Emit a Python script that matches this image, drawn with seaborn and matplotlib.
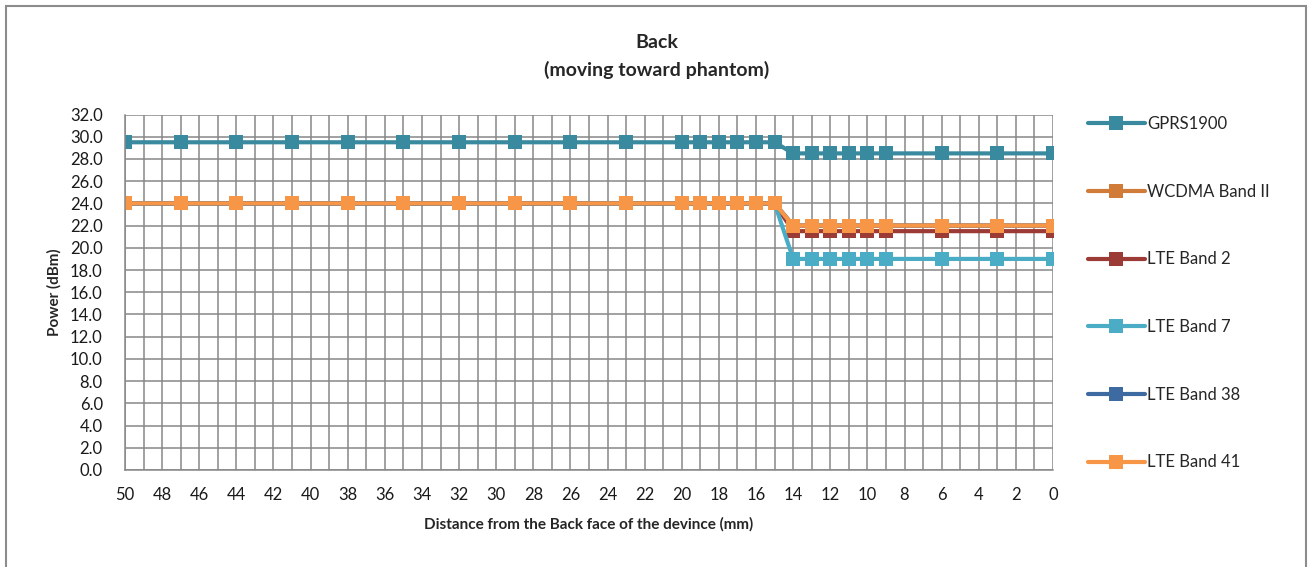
import pandas as pd
import matplotlib
matplotlib.use('Agg')
import matplotlib.pyplot as plt
import seaborn as sns
from matplotlib.patches import Rectangle
from matplotlib.ticker import MultipleLocator, FormatStrFormatter

distance = [50, 47, 44, 41, 38, 35, 32, 29, 26, 23, 20, 19, 18, 17, 16, 15,
            14, 13, 12, 11, 10, 9, 6, 3, 0]
gprs1900 = [29.5] * 16 + [28.5] * 9
wcdma_b2 = [24.0] * 16 + [22.0] * 9
lte_b2 = [24.0] * 16 + [21.5] * 9
lte_b7 = [24.0] * 16 + [19.0] * 9
lte_b38 = [24.0] * 16 + [22.0] * 9
lte_b41 = [24.0] * 16 + [22.0] * 9

series = ['GPRS1900', 'WCDMA Band II', 'LTE Band 2', 'LTE Band 7', 'LTE Band 38', 'LTE Band 41']
values = [gprs1900, wcdma_b2, lte_b2, lte_b7, lte_b38, lte_b41]
colors = ['#3A8A9F', '#D07B38', '#9C3B36', '#4BACC6', '#3D6AA0', '#F79646']

rows = []
for name, vals in zip(series, values):
    for d, v in zip(distance, vals):
        rows.append({'dist': d, 'power': v, 'series': name})
df = pd.DataFrame(rows)

sns.set_style('white')
plt.rcParams['font.family'] = ['Lato', 'DejaVu Sans']

W, H = 1311, 567
fig = plt.figure(figsize=(W / 100, H / 100), dpi=100)
ax = fig.add_axes([125 / W, 1 - 470 / H, (1053 - 125) / W, (470 - 114.5) / H])

sns.lineplot(data=df, x='dist', y='power', hue='series', hue_order=series,
             palette=dict(zip(series, colors)), marker='s', markersize=10,
             markeredgewidth=0, linewidth=3, ax=ax, legend=True)

ax.set_xlim(50, 0)
ax.set_ylim(0, 32)
ax.xaxis.set_major_locator(MultipleLocator(2))
ax.xaxis.set_minor_locator(MultipleLocator(1))
ax.yaxis.set_major_locator(MultipleLocator(2))
ax.yaxis.set_minor_locator(MultipleLocator(1))
ax.yaxis.set_major_formatter(FormatStrFormatter('%.1f'))
ax.xaxis.set_major_formatter(FormatStrFormatter('%d'))

gc = '#878787'
ax.grid(True, which='major', axis='both', color=gc, lw=1.1)
ax.grid(True, which='minor', axis='x', color=gc, lw=1.1)
ax.set_axisbelow(True)
for s in ['top', 'right']:
    ax.spines[s].set_visible(False)
for s in ['left', 'bottom']:
    ax.spines[s].set_color(gc)
    ax.spines[s].set_linewidth(1.1)

ax.tick_params(axis='both', which='major', direction='out', length=5, width=1.1,
               color=gc, labelsize=12, labelcolor='#1a1a1a')
ax.tick_params(axis='x', which='minor', direction='out', length=5, width=1.1, color=gc)
ax.tick_params(axis='y', which='minor', direction='in', length=4, width=1.1, color=gc)
ax.tick_params(axis='x', which='major', pad=7.5)
ax.tick_params(axis='y', which='major', pad=11)

ax.set_xlabel('Distance from the Back face of the devince (mm)', fontsize=11,
              fontweight='bold', labelpad=10)
ax.set_ylabel('Power (dBm)', fontsize=11, fontweight='bold', labelpad=6)

fig.text(657 / W, 1 - 42 / H, 'Back', ha='center', va='center',
         fontsize=14, fontweight='bold')
fig.text(657 / W, 1 - 70 / H, '(moving toward phantom)', ha='center', va='center',
         fontsize=14, fontweight='bold')

handles, labels = ax.get_legend_handles_labels()
ax.get_legend().remove()
fig.legend(handles, labels, loc='upper left', bbox_to_anchor=(1088 / W, 1 - 116 / H),
           frameon=False, fontsize=12, handlelength=3.4, handletextpad=0.15,
           labelspacing=3.1, numpoints=1, borderaxespad=0, borderpad=0)

fig.add_artist(Rectangle((6 / W, -0.05), 1300 / W, 1 - 6 / H + 0.05,
                         transform=fig.transFigure, fill=False,
                         edgecolor='#8c8c8c', lw=1.5))

fig.savefig('out.png', dpi=100)
